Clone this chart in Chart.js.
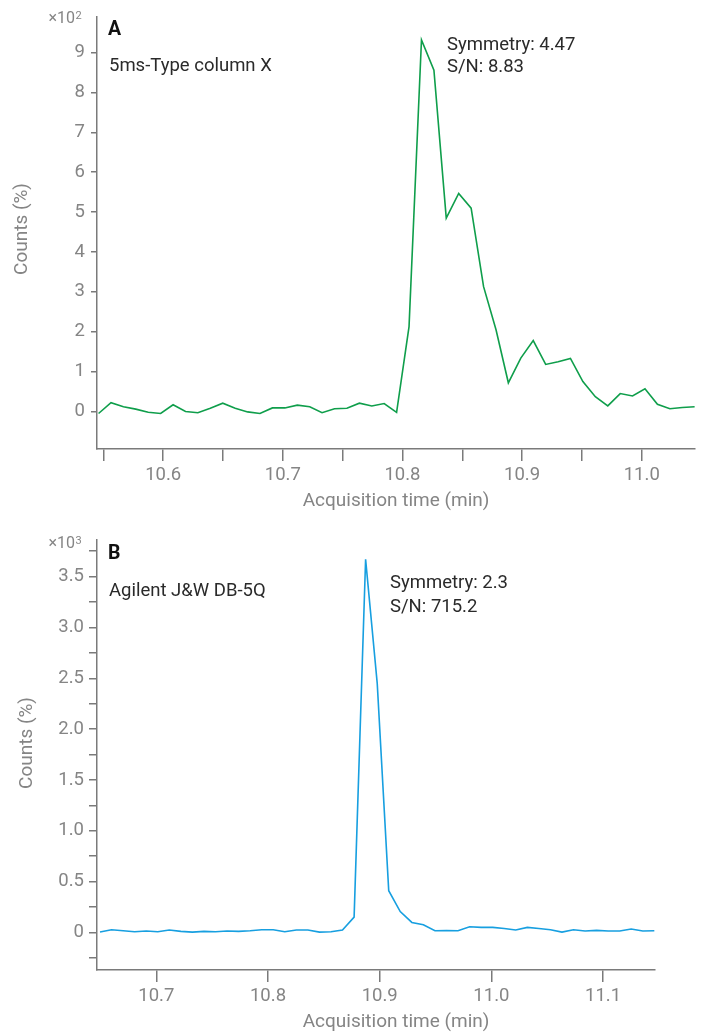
<!DOCTYPE html>
<html><head><meta charset="utf-8">
<script src="https://cdn.jsdelivr.net/npm/chart.js@4.4.1/dist/chart.umd.min.js"></script>
<style>
html,body{margin:0;padding:0;background:#fff;}
#wrap{position:relative;width:701px;height:1034px;overflow:hidden;}
.box{position:absolute;left:0;width:701px;}
canvas{display:block;}
</style></head><body>
<div id="wrap">
<div class="box" style="top:0;height:520px"><canvas id="cA" width="701" height="520" style="width:701px;height:520px"></canvas></div>
<div class="box" style="top:520px;height:514px"><canvas id="cB" width="701" height="514" style="width:701px;height:514px"></canvas></div>
</div>
<script>
// ---- Panel A data (time in min, counts in units of x10^2) ----
const timeA = [10.5460,10.5564,10.5668,10.5771,10.5875,10.5979,10.6083,10.6187,10.6290,10.6394,
  10.6498,10.6602,10.6706,10.6809,10.6913,10.7017,10.7121,10.7225,10.7328,10.7432,
  10.7536,10.7640,10.7744,10.7847,10.7951,10.8055,10.8159,10.8263,10.8366,10.8470,
  10.8574,10.8678,10.8782,10.8885,10.8989,10.9093,10.9197,10.9301,10.9404,10.9508,
  10.9612,10.9716,10.9820,10.9923,11.0027,11.0131,11.0235,11.0339,11.0442];
const countsA = [-0.05,0.22,0.12,0.06,-0.02,-0.05,0.17,0.00,-0.03,0.08,
  0.21,0.08,-0.01,-0.05,0.09,0.09,0.16,0.12,-0.03,0.07,
  0.08,0.21,0.14,0.20,-0.02,2.13,9.32,8.56,4.85,5.47,
  5.10,3.13,2.05,0.72,1.34,1.78,1.18,1.25,1.33,0.75,
  0.37,0.14,0.45,0.39,0.57,0.18,0.07,0.10,0.12];
const xTicksA = [10.55,10.6,10.65,10.7,10.75,10.8,10.85,10.9,10.95,11.0];
const yTicksA = [0,1,2,3,4,5,6,7,8,9];

// ---- Panel B data (time in min, counts in units of x10^3) ----
const timeB = [10.6496,10.6599,10.6703,10.6806,10.6910,10.7013,10.7116,10.7220,10.7323,10.7427,
  10.7530,10.7633,10.7737,10.7840,10.7944,10.8047,10.8150,10.8254,10.8357,10.8461,
  10.8564,10.8667,10.8771,10.8874,10.8978,10.9081,10.9184,10.9288,10.9391,10.9495,
  10.9598,10.9701,10.9805,10.9908,11.0012,11.0115,11.0218,11.0322,11.0425,11.0529,
  11.0632,11.0735,11.0839,11.0942,11.1046,11.1149,11.1252,11.1356,11.1459];
const countsB = [0.003,0.026,0.016,0.007,0.013,0.007,0.023,0.010,0.003,0.010,
  0.007,0.013,0.010,0.016,0.026,0.026,0.007,0.023,0.023,0.003,
  0.007,0.023,0.150,3.67,2.45,0.41,0.205,0.098,0.075,0.016,
  0.018,0.016,0.056,0.049,0.049,0.039,0.023,0.049,0.039,0.026,
  0.003,0.026,0.013,0.020,0.013,0.013,0.033,0.013,0.016];
const xTicksB = [10.7,10.8,10.9,11.0,11.1];
const yTicksB = [-0.25,0,0.25,0.5,0.75,1.0,1.25,1.5,1.75,2.0,2.25,2.5,2.75,3.0,3.25,3.5,3.75];

const FONT = 'Roboto, "Liberation Sans", sans-serif';
const AXIS = '#7a7a7a';
const LBL = '#858585';
const TXT = '#2a2a2a';
const TICK_SIZE = 18.5;
const TITLE_SIZE = 19;

const textPlugin = {
  id: 'texts',
  afterDraw(chart, args, opts) {
    const ctx = chart.ctx;
    for (const t of opts.items) {
      ctx.save();
      ctx.font = t.font;
      ctx.fillStyle = t.color;
      ctx.textAlign = t.align || 'left';
      ctx.textBaseline = t.baseline || 'alphabetic';
      if (t.rot) {
        ctx.translate(t.x, t.y);
        ctx.rotate(t.rot);
        ctx.fillText(t.text, 0, 0);
      } else {
        ctx.fillText(t.text, t.x, t.y);
      }
      ctx.restore();
    }
  }
};

function isMult(v, step) { return Math.abs(v / step - Math.round(v / step)) < 1e-6; }

function makeChart(id, cfg) {
  const pts = cfg.t.map((x, i) => ({x: x, y: cfg.v[i]}));
  return new Chart(document.getElementById(id), {
    type: 'line',
    data: { datasets: [{ data: pts, borderColor: cfg.color, borderWidth: 1.6,
      pointRadius: 0, tension: 0, fill: false }] },
    options: {
      responsive: false, animation: false, devicePixelRatio: 1,
      layout: { padding: cfg.pad },
      plugins: { legend: {display: false}, tooltip: {enabled: false}, texts: {items: cfg.texts} },
      scales: {
        x: {
          type: 'linear', min: cfg.xmin, max: cfg.xmax,
          afterBuildTicks: s => { s.ticks = cfg.xTicks.map(v => ({value: v})); },
          afterFit: s => { s.height = cfg.xH; },
          ticks: { autoSkip: false, maxRotation: 0, padding: 3, color: LBL,
            font: {family: FONT, size: TICK_SIZE},
            callback: v => isMult(v, 0.1) ? v.toFixed(1) : '' },
          grid: { drawOnChartArea: false, drawTicks: true, tickLength: 12, color: AXIS, lineWidth: 1.5 },
          border: { display: true, color: AXIS, width: 1.5 },
          title: { display: false }
        },
        y: {
          type: 'linear', min: cfg.ymin, max: cfg.ymax,
          afterBuildTicks: s => { s.ticks = cfg.yTicks.map(v => ({value: v})); },
          afterFit: s => { s.width = 97; },
          ticks: { autoSkip: false, padding: cfg.yPad, color: LBL,
            font: {family: FONT, size: TICK_SIZE}, callback: cfg.yLabel },
          grid: { drawOnChartArea: false, drawTicks: true, tickLength: cfg.yTL, color: AXIS, lineWidth: 1.5 },
          border: { display: true, color: AXIS, width: 1.5 },
          title: { display: false }
        }
      }
    },
    plugins: [textPlugin]
  });
}

const titleFont = TITLE_SIZE + 'px ' + FONT;

makeChart('cA', {
  t: timeA, v: countsA, color: '#0f9e4b',
  xmin: 10.5447, xmax: 11.0445, ymin: -0.94, ymax: 9.89,
  xTicks: xTicksA, yTicks: yTicksA,
  pad: {top: 13, right: 6, left: 0, bottom: 0},
  xH: 71, yPad: 6, yTL: 6,
  yLabel: v => String(v),
  texts: [
    {text: 'Acquisition time (min)', x: 396, y: 501, font: titleFont, color: LBL, align: 'center', baseline: 'middle'},
    {text: 'Counts (%)', x: 22, y: 229, font: titleFont, color: LBL, align: 'center', baseline: 'middle', rot: -Math.PI / 2},
    {text: '×10', x: 75, y: 23, font: '16px ' + FONT, color: LBL, align: 'right'},
    {text: '2', x: 75.5, y: 19, font: '11px ' + FONT, color: LBL},
    {text: 'A', x: 108, y: 35, font: 'bold 19.5px ' + FONT, color: '#111'},
    {text: '5ms-Type column X', x: 109, y: 71, font: '18.5px ' + FONT, color: TXT},
    {text: 'Symmetry: 4.47', x: 447, y: 49.5, font: '18.5px ' + FONT, color: TXT},
    {text: 'S/N: 8.83', x: 447, y: 72, font: '18.5px ' + FONT, color: TXT}
  ]
});

makeChart('cB', {
  t: timeB, v: countsB, color: '#179fe0',
  xmin: 10.6469, xmax: 11.1465, ymin: -0.37, ymax: 3.86,
  xTicks: xTicksB, yTicks: yTicksB,
  pad: {top: 20, right: 46, left: 0, bottom: 0},
  xH: 64, yPad: 5, yTL: 8,
  yLabel: v => (isMult(v, 0.5) ? (v === 0 ? '0' : v.toFixed(1)) : ''),
  texts: [
    {text: 'Acquisition time (min)', x: 396, y: 502, font: titleFont, color: LBL, align: 'center', baseline: 'middle'},
    {text: 'Counts (%)', x: 27, y: 223, font: titleFont, color: LBL, align: 'center', baseline: 'middle', rot: -Math.PI / 2},
    {text: '×10', x: 75, y: 28, font: '16px ' + FONT, color: LBL, align: 'right'},
    {text: '3', x: 75.5, y: 24, font: '11px ' + FONT, color: LBL},
    {text: 'B', x: 108, y: 38.5, font: 'bold 19.5px ' + FONT, color: '#111'},
    {text: 'Agilent J&W DB-5Q', x: 109, y: 76, font: '18.5px ' + FONT, color: TXT},
    {text: 'Symmetry: 2.3', x: 390, y: 68, font: '18.5px ' + FONT, color: TXT},
    {text: 'S/N: 715.2', x: 390, y: 91.5, font: '18.5px ' + FONT, color: TXT}
  ]
});
</script>
</body></html>
